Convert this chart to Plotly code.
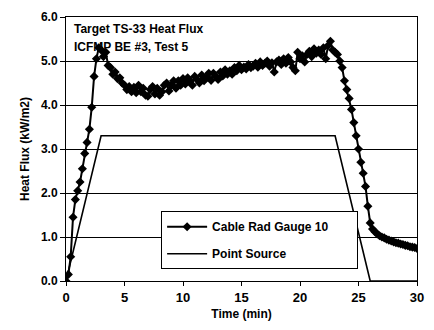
import plotly.graph_objects as go

# Measured heat flux at target TS-33, 12 s sampling (time in minutes)
time_min = [
    0.0, 0.2, 0.4, 0.6, 0.8, 1.0, 1.2, 1.4, 1.6, 1.8,
    2.0, 2.2, 2.4, 2.6, 2.8, 3.0, 3.2, 3.4, 3.6, 3.8,
    4.0, 4.2, 4.4, 4.6, 4.8, 5.0, 5.2, 5.4, 5.6, 5.8,
    6.0, 6.2, 6.4, 6.6, 6.8, 7.0, 7.2, 7.4, 7.6, 7.8,
    8.0, 8.2, 8.4, 8.6, 8.8, 9.0, 9.2, 9.4, 9.6, 9.8,
    10.0, 10.2, 10.4, 10.6, 10.8, 11.0, 11.2, 11.4, 11.6, 11.8,
    12.0, 12.2, 12.4, 12.6, 12.8, 13.0, 13.2, 13.4, 13.6, 13.8,
    14.0, 14.2, 14.4, 14.6, 14.8, 15.0, 15.2, 15.4, 15.6, 15.8,
    16.0, 16.2, 16.4, 16.6, 16.8, 17.0, 17.2, 17.4, 17.6, 17.8,
    18.0, 18.2, 18.4, 18.6, 18.8, 19.0, 19.2, 19.4, 19.6, 19.8,
    20.0, 20.2, 20.4, 20.6, 20.8, 21.0, 21.2, 21.4, 21.6, 21.8,
    22.0, 22.2, 22.4, 22.6, 22.8, 23.0, 23.2, 23.4, 23.6, 23.8,
    24.0, 24.2, 24.4, 24.6, 24.8, 25.0, 25.2, 25.4, 25.6, 25.8,
    26.0, 26.2, 26.4, 26.6, 26.8, 27.0, 27.2, 27.4, 27.6, 27.8,
    28.0, 28.2, 28.4, 28.6, 28.8, 29.0, 29.2, 29.4, 29.6, 29.8,
    30.0,
]
gauge_flux = [
    0.00, 0.15, 0.55, 1.45, 1.85, 2.05, 2.25, 2.55, 2.90, 3.15,
    3.45, 3.95, 4.65, 5.05, 5.30, 5.25, 5.10, 5.20, 4.90, 4.85,
    4.70, 4.75, 4.60, 4.62, 4.50, 4.45, 4.35, 4.42, 4.30, 4.40,
    4.28, 4.45, 4.30, 4.38, 4.22, 4.20, 4.35, 4.42, 4.25, 4.38,
    4.22, 4.30, 4.45, 4.50, 4.32, 4.45, 4.55, 4.38, 4.55, 4.45,
    4.60, 4.48, 4.62, 4.55, 4.45, 4.65, 4.58, 4.50, 4.68, 4.55,
    4.62, 4.72, 4.56, 4.72, 4.65, 4.58, 4.75, 4.66, 4.80, 4.70,
    4.78, 4.70, 4.85, 4.78, 4.90, 4.80, 4.86, 4.82, 4.92, 4.85,
    4.88, 4.95, 4.86, 4.98, 4.90, 4.95, 5.00, 4.88, 4.96, 4.75,
    4.98, 5.02, 4.92, 5.05, 4.95, 5.08, 4.98, 4.85, 4.78, 5.20,
    5.05, 5.12, 4.98, 5.15, 5.22, 5.10, 5.28, 5.18, 5.25, 5.15,
    5.30, 5.05, 5.35, 5.45, 5.25, 5.20, 5.15, 5.00, 4.85, 4.55,
    4.35, 4.15, 3.90, 3.60, 3.30, 3.00, 2.70, 2.45, 2.15, 1.70,
    1.32, 1.18, 1.12, 1.07, 1.03, 1.00, 0.98, 0.95, 0.93, 0.91,
    0.89, 0.87, 0.86, 0.84, 0.83, 0.81, 0.80, 0.78, 0.77, 0.76,
    0.74,
]

# Idealised point-source prediction
source_time = [0, 3, 23, 26, 30]
source_flux = [0.0, 3.3, 3.3, 0.0, 0.0]

x_ticks = [0, 5, 10, 15, 20, 25, 30]
y_ticks = [0, 1, 2, 3, 4, 5, 6]
y_tick_text = ["0.0", "1.0", "2.0", "3.0", "4.0", "5.0", "6.0"]

FONT = "Liberation Sans, Arial, sans-serif"
PAD = "\u00a0" * 7  # trailing space widens the legend box

fig = go.Figure()
fig.add_trace(go.Scatter(
    x=time_min, y=gauge_flux, mode="lines+markers",
    name="<b>Cable Rad Gauge 10</b>" + PAD, legendgroup="g1",
    line=dict(color="black", width=2),
    marker=dict(symbol="diamond", size=7, color="black"),
))
fig.add_trace(go.Scatter(
    x=source_time, y=source_flux, mode="lines",
    name="<b>Point Source</b>", legendgroup="g2",
    line=dict(color="black", width=1.6),
))

fig.update_layout(
    width=434, height=330,
    margin=dict(l=66, r=10, t=12, b=49),
    paper_bgcolor="white", plot_bgcolor="white",
    font=dict(family=FONT, size=12, color="black"),
    showlegend=True,
    legend=dict(
        x=0.271, y=0.264, xanchor="left", yanchor="top",
        bgcolor="white", bordercolor="black", borderwidth=1,
        font=dict(size=12, family=FONT, color="black"),
        tracegroupgap=8, traceorder="grouped",
        itemwidth=40,
    ),
    xaxis=dict(
        range=[0, 30], tickvals=x_ticks,
        ticktext=[f"<b>{v}</b>" for v in x_ticks],
        showgrid=False, zeroline=False,
        showline=True, linecolor="black", linewidth=1, mirror=True,
        ticks="outside", ticklen=4, tickcolor="black",
        tickfont=dict(size=13, family=FONT),
        title=dict(text="<b>Time (min)</b>", font=dict(size=12, family=FONT), standoff=6),
    ),
    yaxis=dict(
        range=[0, 6], tickvals=y_ticks,
        ticktext=[f"<b>{t}</b>" for t in y_tick_text],
        showgrid=True, gridcolor="black", gridwidth=1, zeroline=False,
        showline=True, linecolor="black", linewidth=1, mirror=True,
        ticks="outside", ticklen=5, tickcolor="black",
        tickfont=dict(size=12, family=FONT),
        title=dict(text="<b>Heat Flux (kW/m2)</b>", font=dict(size=12, family=FONT), standoff=8),
    ),
    annotations=[
        dict(text="<b>Target TS-33 Heat Flux</b>", xref="paper", yref="paper",
             x=0.017, y=0.955, xanchor="left", yanchor="middle", showarrow=False,
             font=dict(size=12, family=FONT)),
        dict(text="<b>ICFMP BE #3, Test 5</b>", xref="paper", yref="paper",
             x=0.017, y=0.885, xanchor="left", yanchor="middle", showarrow=False,
             font=dict(size=12, family=FONT)),
    ],
)

fig.write_html("out.html")
